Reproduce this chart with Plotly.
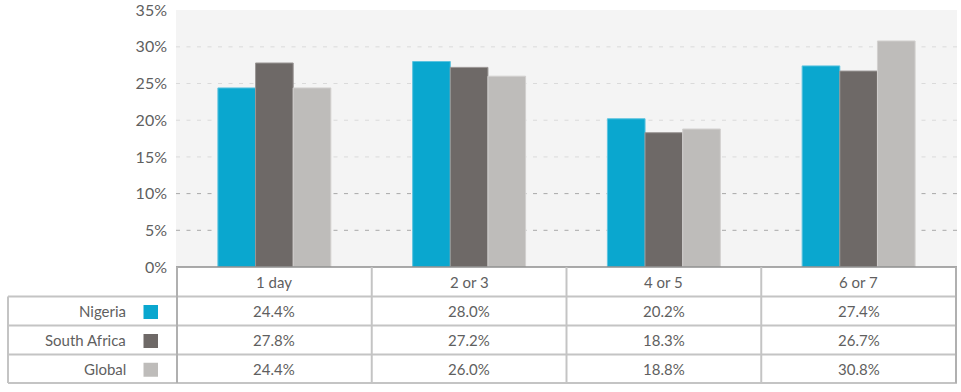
import plotly.graph_objects as go

categories = ["1 day", "2 or 3", "4 or 5", "6 or 7"]
series_names = ["Nigeria", "South Africa", "Global"]
nigeria = [24.4, 28.0, 20.2, 27.4]
south_africa = [27.8, 27.2, 18.3, 26.7]
global_vals = [24.4, 26.0, 18.8, 30.8]
y_ticks = [0, 5, 10, 15, 20, 25, 30, 35]
y_tick_labels = ["0%", "5%", "10%", "15%", "20%", "25%", "30%", "35%"]
grid_vals = [5, 10, 15, 20, 25, 30]

series_values = [nigeria, south_africa, global_vals]
colors = ["#0aa7cf", "#6e6967", "#bebcba"]
edge_colors = ["#5cc3df", "#9a9694", "#d2d0cf"]
grid_colors = ["#a8a8a8", "#a8a8a8", "#dadada", "#dadada", "#dadada", "#dadada"]

W, H = 961, 392
PL, PR, PT, PB = 176, 957, 10, 267
FONT = "Lato"
TXT = "#5f5f5f"

def px(x):
    return (x - PL) / (PR - PL)

def py(y):
    return (PB - y) / (PB - PT)

fig = go.Figure()
for name, vals, c, ec in zip(series_names, series_values, colors, edge_colors):
    fig.add_trace(go.Bar(
        x=categories, y=vals, name=name,
        marker=dict(color=c, line=dict(color=ec, width=1)),
        hoverinfo="skip",
    ))

shapes = []
# dashed gridlines
for v, gc in zip(grid_vals, grid_colors):
    shapes.append(dict(type="line", xref="paper", yref="y", x0=0, x1=1, y0=v, y1=v,
                       line=dict(color=gc, width=1, dash="4px,6.5px"), layer="below"))

# table geometry (pixels)
header_bottom = 296.5
row_lines = [325.5, 354.5, 383]
table_left = 8
line_c = "#c4c4c4"

# axis line / header top
shapes.append(dict(type="line", xref="paper", yref="paper", x0=0, x1=1, y0=0, y1=0,
                   line=dict(color="#8e8e8e", width=1.5)))
# horizontal lines of table
for yy in [header_bottom] + row_lines:
    shapes.append(dict(type="line", xref="paper", yref="paper",
                       x0=px(table_left), x1=1, y0=py(yy), y1=py(yy),
                       line=dict(color=line_c, width=2)))
# vertical column lines
n = len(categories)
for i in range(n + 1):
    shapes.append(dict(type="line", xref="x", yref="paper",
                       x0=i - 0.5, x1=i - 0.5, y0=0, y1=py(row_lines[-1]),
                       line=dict(color=line_c if 0 < i < n else "#b0b0b0", width=2)))
# table left edge
shapes.append(dict(type="line", xref="paper", yref="paper",
                   x0=px(table_left), x1=px(table_left), y0=py(header_bottom), y1=py(row_lines[-1]),
                   line=dict(color=line_c, width=2)))

annotations = []
# header labels
for i, cat in enumerate(categories):
    annotations.append(dict(x=i, y=py((PB + header_bottom) / 2), xref="x", yref="paper",
                            xanchor="center", yanchor="middle",
                            text=cat, showarrow=False, font=dict(family=FONT, size=15, color=TXT)))
row_tops = [header_bottom] + row_lines[:-1]
for r, (name, vals, c) in enumerate(zip(series_names, series_values, colors)):
    yc = (row_tops[r] + row_lines[r]) / 2
    annotations.append(dict(x=px(128), y=py(yc), xref="paper", yref="paper",
                            xanchor="right", yanchor="middle",
                            text=name, showarrow=False, font=dict(family=FONT, size=15, color=TXT)))
    shapes.append(dict(type="rect", xref="paper", yref="paper",
                       x0=px(143.5), x1=px(158), y0=py(yc - 7 + 1), y1=py(yc + 7 + 1),
                       fillcolor=c, line=dict(width=0)))
    for i, v in enumerate(vals):
        annotations.append(dict(x=i, y=py(yc), xref="x", yref="paper",
                                xanchor="center", yanchor="middle",
                                text=f"{v:.1f}%", showarrow=False,
                                font=dict(family=FONT, size=15, color=TXT)))

fig.update_layout(
    width=W, height=H, autosize=False,
    margin=dict(l=PL, r=W - PR, t=PT, b=H - PB, autoexpand=False),
    paper_bgcolor="white", plot_bgcolor="#f4f4f4",
    barmode="group", bargap=0.42, bargroupgap=0,
    showlegend=False,
    font=dict(family=FONT, color=TXT),
    shapes=shapes, annotations=annotations,
    xaxis=dict(showticklabels=False, showgrid=False, zeroline=False, showline=False,
               ticks="", fixedrange=True, automargin=False),
    yaxis=dict(range=[0, 35.02], tickvals=y_ticks, ticktext=y_tick_labels, showgrid=False,
               zeroline=False, showline=False, ticks="", ticklabelstandoff=8,
               ticklabeloverflow="allow",
               tickfont=dict(family=FONT, size=16, color=TXT), fixedrange=True,
               automargin=False),
)

fig.write_html("out.html", config={"displayModeBar": False},
               post_script="document.body.style.margin='0';document.body.style.overflow='hidden';")
